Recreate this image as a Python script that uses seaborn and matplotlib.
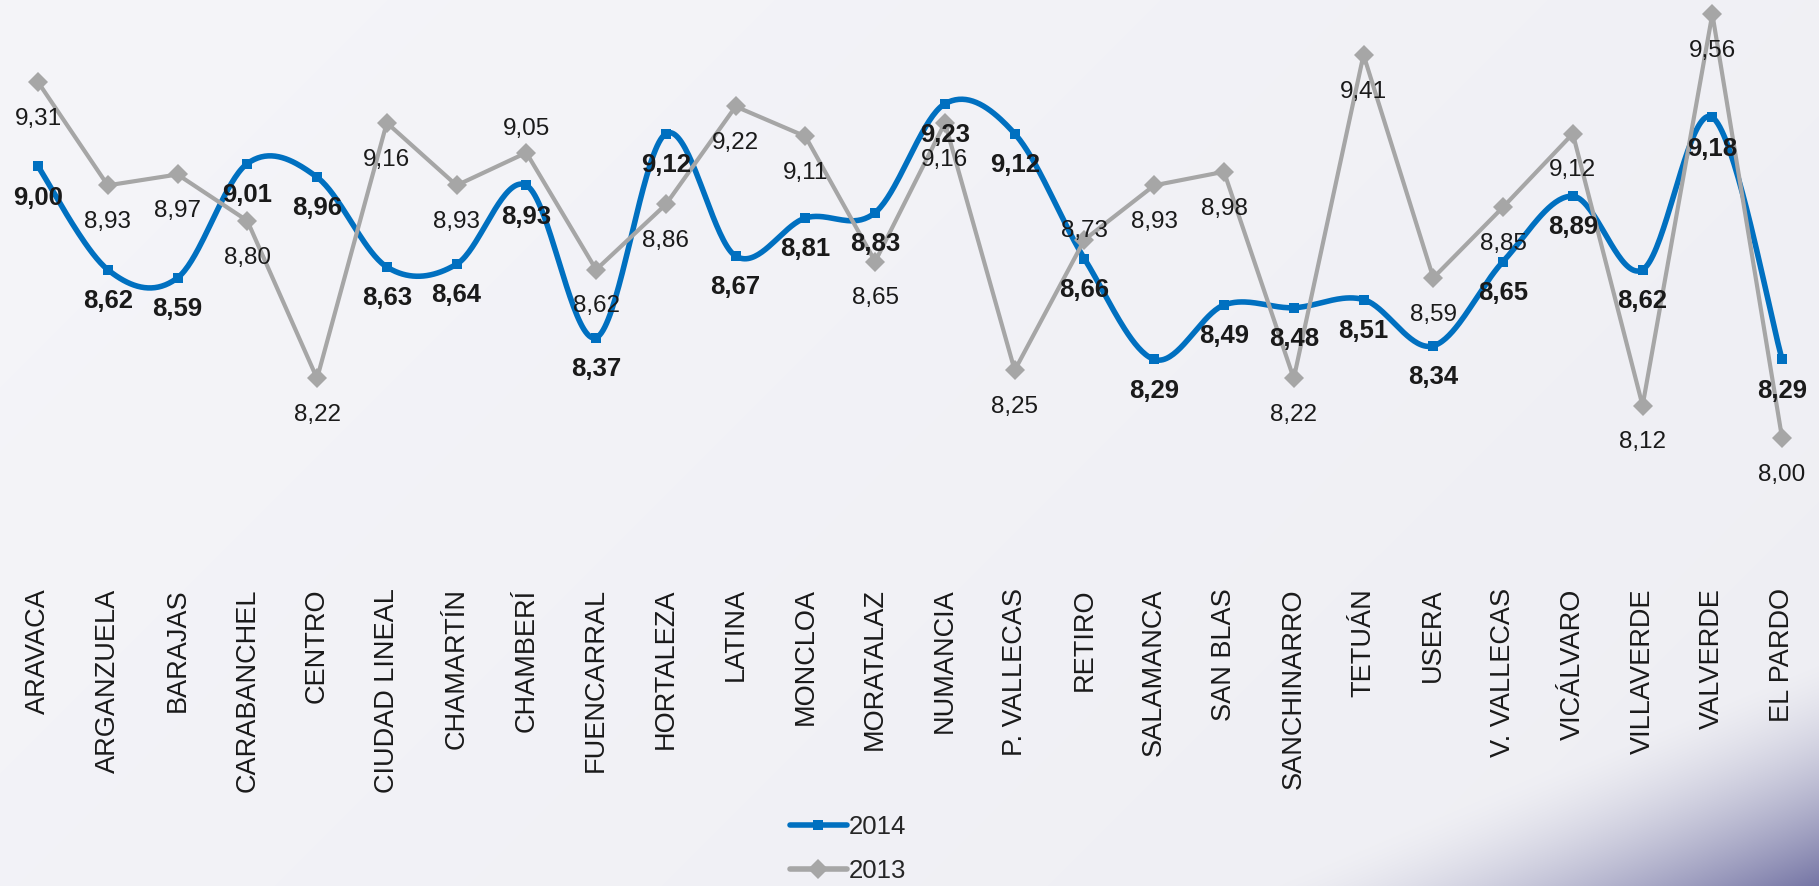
import numpy as np
import pandas as pd
import matplotlib
matplotlib.use("Agg")
import matplotlib.pyplot as plt
from matplotlib.lines import Line2D
import seaborn as sns

# ---------------- data ----------------
categories = ["ARAVACA", "ARGANZUELA", "BARAJAS", "CARABANCHEL", "CENTRO",
              "CIUDAD LINEAL", "CHAMARTÍN", "CHAMBERÍ", "FUENCARRAL", "HORTALEZA",
              "LATINA", "MONCLOA", "MORATALAZ", "NUMANCIA", "P. VALLECAS",
              "RETIRO", "SALAMANCA", "SAN BLAS", "SANCHINARRO", "TETUÁN",
              "USERA", "V. VALLECAS", "VICÁLVARO", "VILLAVERDE", "VALVERDE", "EL PARDO"]
values_2014 = [9.00, 8.62, 8.59, 9.01, 8.96, 8.63, 8.64, 8.93, 8.37, 9.12,
               8.67, 8.81, 8.83, 9.23, 9.12, 8.66, 8.29, 8.49, 8.48, 8.51,
               8.34, 8.65, 8.89, 8.62, 9.18, 8.29]
values_2013 = [9.31, 8.93, 8.97, 8.80, 8.22, 9.16, 8.93, 9.05, 8.62, 8.86,
               9.22, 9.11, 8.65, 9.16, 8.25, 8.73, 8.93, 8.98, 8.22, 9.41,
               8.59, 8.85, 9.12, 8.12, 9.56, 8.00]
series_names = ["2014", "2013"]

# label placement exceptions for 2013 (offset in points, positive = above)
label_offset_2013 = {"CHAMBERÍ": 17, "RETIRO": 6}

# ---------------- style ----------------
BLUE = "#0070C0"
GRAY = "#A6A6A6"
TEXT = "#1a1a1a"
W, H, DPI = 1819, 886, 100

sns.set_theme(style="white")
plt.rcParams["font.family"] = ["Liberation Sans", "DejaVu Sans"]

fig = plt.figure(figsize=(W / DPI, H / DPI), dpi=DPI)

# background gradient (purely decorative)
bg = fig.add_axes([0, 0, 1, 1], zorder=-10)
yy, xx = np.mgrid[0:H, 0:W].astype(float)
light_a = np.array([245, 245, 249]) / 255
light_b = np.array([238, 238, 243]) / 255
dark = np.array([116, 116, 164]) / 255
s = np.clip((xx + yy) / (W + H), 0, 1)[..., None]
base = light_a * (1 - s) + light_b * s
d2 = 0.38 * xx + 0.925 * yy
t = np.clip((d2 - 1300) / (1511 - 1300), 0, 1)[..., None] ** 1.5
img = base * (1 - t) + dark * t
bg.imshow(img, aspect="auto", extent=[0, 1, 0, 1], origin="upper")
bg.set_axis_off()

# main axes positioned in pixels
left_px, right_px = 3.1, 1817.0
top_px, bottom_px = 0.0, 580.0
ax = fig.add_axes([left_px / W, 1 - bottom_px / H,
                   (right_px - left_px) / W, (bottom_px - top_px) / H])
ax.set_facecolor("none")

x = np.arange(len(categories))
df = pd.DataFrame({"x": np.concatenate([x, x]),
                   "value": values_2014 + values_2013,
                   "serie": [series_names[0]] * len(x) + [series_names[1]] * len(x)})


def excel_smooth(xv, yv, n=40):
    pts = np.column_stack([xv, yv]).astype(float)
    P = np.vstack([pts[0], pts, pts[-1]])
    out = []
    for i in range(len(pts) - 1):
        p0, p1, p2, p3 = P[i], P[i + 1], P[i + 2], P[i + 3]
        c1 = p1 + (p2 - p0) / 6.0
        c2 = p2 - (p3 - p1) / 6.0
        tt = np.linspace(0, 1, n, endpoint=(i == len(pts) - 2))[:, None]
        seg = ((1 - tt) ** 3) * p1 + 3 * (1 - tt) ** 2 * tt * c1 + 3 * (1 - tt) * tt ** 2 * c2 + tt ** 3 * p2
        out.append(seg)
    out = np.vstack(out)
    return out[:, 0], out[:, 1]


d14 = df[df["serie"] == "2014"]
d13 = df[df["serie"] == "2013"]

sx, sy = excel_smooth(d14["x"].values, d14["value"].values)
sns.lineplot(x=sx, y=sy, sort=False, color=BLUE, linewidth=4.0, ax=ax,
             solid_capstyle="round", zorder=2)
sns.scatterplot(x=d14["x"], y=d14["value"], marker="s", s=45, color=BLUE,
                edgecolor=BLUE, linewidth=0, ax=ax, zorder=3)

sns.lineplot(data=d13, x="x", y="value", color=GRAY, linewidth=3.0,
             marker="D", markersize=10, markeredgewidth=0, markerfacecolor=GRAY,
             ax=ax, zorder=4)


def fmt(v):
    return f"{v:.2f}".replace(".", ",")


for xi, v in zip(x, values_2014):
    ax.annotate(fmt(v), (xi, v), xytext=(0, -22.5), textcoords="offset points",
                ha="center", va="center", fontsize=18.5, fontweight="bold",
                color=TEXT, zorder=6)
for xi, v, cat in zip(x, values_2013, categories):
    off = label_offset_2013.get(cat, -26.5)
    ax.annotate(fmt(v), (xi, v), xytext=(0, off), textcoords="offset points",
                ha="center", va="center", fontsize=17.5, color=TEXT, zorder=6)

ax.set_xlim(-0.5, len(categories) - 0.5)
ax.set_ylim(7.479, 9.6115)
ax.set_xticks(x)
ax.set_xticklabels(categories, rotation=90, fontsize=19.5, color=TEXT,
                   va="top", ha="center")
ax.tick_params(axis="x", length=0, pad=6)
ax.set_yticks([])
ax.set_xlabel("")
ax.set_ylabel("")
for sp in ax.spines.values():
    sp.set_visible(False)
ax.grid(False)
if ax.get_legend() is not None:
    ax.get_legend().remove()

handles = [Line2D([], [], color=BLUE, linewidth=4.0, marker="s", markersize=7,
                  markeredgewidth=0, solid_capstyle="round"),
           Line2D([], [], color=GRAY, linewidth=4.0, marker="D", markersize=10,
                  markeredgewidth=0, solid_capstyle="round")]
fig.legend(handles, series_names, loc="upper left",
           bbox_to_anchor=(790 / W, 1 - 815 / H), frameon=False, fontsize=18.5,
           handlelength=2.2, handletextpad=0.1, labelspacing=0.78,
           borderpad=0, borderaxespad=0)

fig.savefig("out.png", dpi=DPI)
